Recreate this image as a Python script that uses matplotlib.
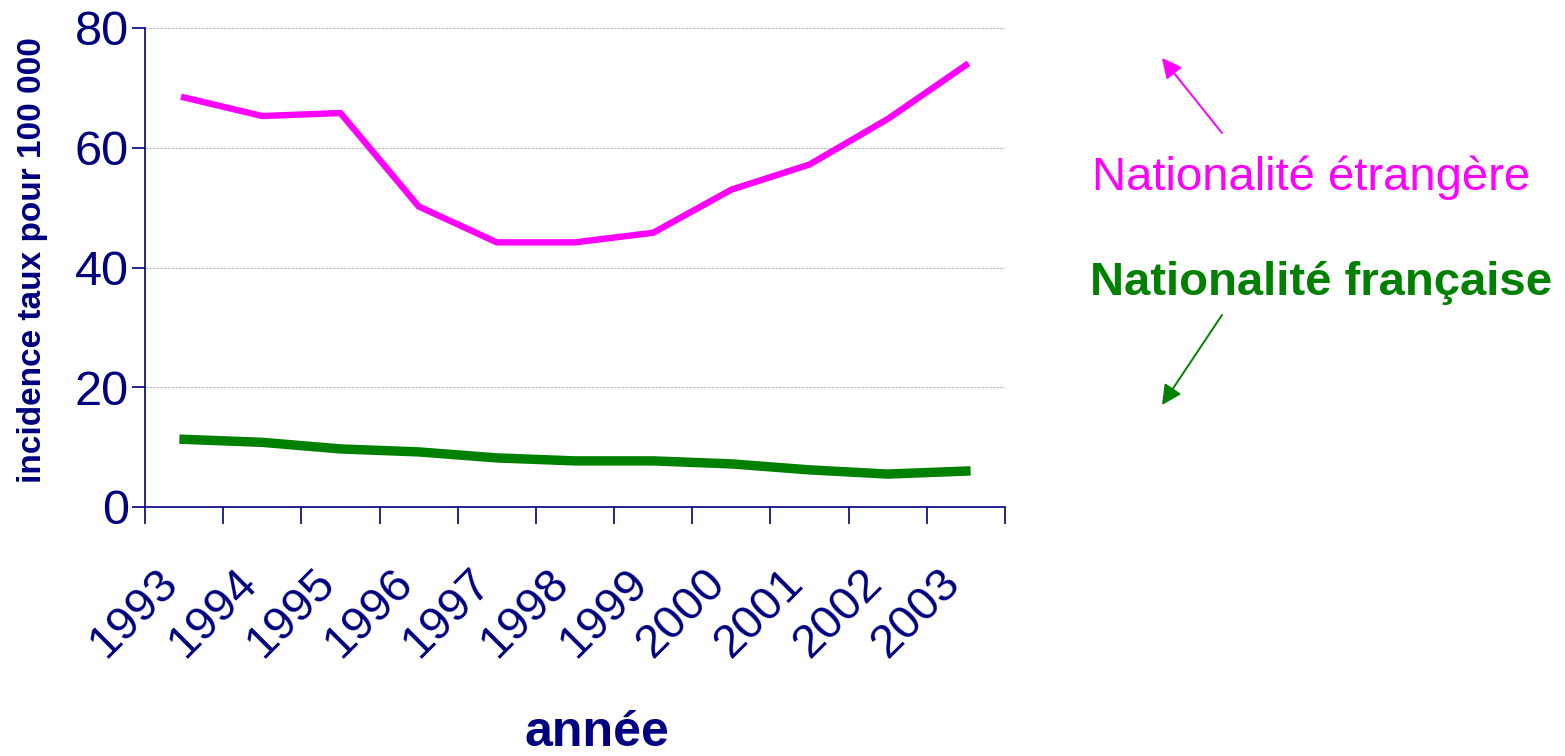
import matplotlib
matplotlib.use('Agg')
import matplotlib.pyplot as plt
from matplotlib.transforms import ScaledTranslation

plt.rcParams['font.family'] = ['Liberation Sans', 'DejaVu Sans']

# data
annees = ['1993', '1994', '1995', '1996', '1997', '1998', '1999', '2000', '2001', '2002', '2003']
etrangere = [68.4, 65.3, 65.8, 50.2, 44.2, 44.2, 45.8, 53.0, 57.2, 64.8, 73.8]
francaise = [11.3, 10.8, 9.7, 9.2, 8.2, 7.7, 7.7, 7.2, 6.2, 5.5, 6.0]
yticks = [0, 20, 40, 60, 80]

navy = '#000080'
magenta = '#ff00ff'
vert = '#008000'

W, H = 1565, 756
fig = plt.figure(figsize=(W / 100, H / 100), dpi=100)
ax = fig.add_axes([145 / W, 1 - 507 / H, 860 / W, 479 / H])

x = list(range(len(annees)))
ax.plot(x, etrangere, color=magenta, lw=4.6, solid_joinstyle='miter', zorder=3)
ax.plot(x, francaise, color=vert, lw=6.8, solid_joinstyle='miter', zorder=3)

ax.set_xlim(-0.5, len(annees) - 0.5)
ax.set_ylim(0, 80)

# y axis
ax.set_yticks(yticks)
ax.tick_params(axis='y', which='major', direction='out', length=9.5, width=1.2,
               color=navy, labelcolor=navy, labelsize=35, pad=2)
ax.yaxis.grid(True, color='#bdbdbd', lw=0.9, linestyle=(0, (2, 1)))
ax.set_axisbelow(True)

# x axis: ticks between categories, labels at the centres
ax.set_xticks([i - 0.5 for i in range(len(annees) + 1)])
ax.set_xticklabels([])
ax.set_xticks(x, minor=True)
ax.set_xticklabels(annees, minor=True)
ax.tick_params(axis='x', which='major', direction='out', length=12.5, width=1.2, color=navy)
ax.tick_params(axis='x', which='minor', length=0, labelcolor=navy, labelsize=34, pad=56)
off = ScaledTranslation(-4 / 100, 0, fig.dpi_scale_trans)
for lbl in ax.get_xticklabels(minor=True):
    lbl.set_rotation(45)
    lbl.set_rotation_mode('anchor')
    lbl.set_horizontalalignment('right')
    lbl.set_verticalalignment('baseline')
    lbl.set_transform(lbl.get_transform() + off)

for s in ['top', 'right']:
    ax.spines[s].set_visible(False)
for s in ['left', 'bottom']:
    ax.spines[s].set_color(navy)
    ax.spines[s].set_linewidth(1.2)

fig.text(33 / W, 1 - 260 / H, 'incidence taux pour 100 000', rotation=90,
         ha='center', va='center', color=navy, fontsize=24, fontweight='bold')
fig.text(597 / W, 10 / H, 'année', ha='center', va='baseline',
         color=navy, fontsize=36, fontweight='bold')

# series labels with arrows
fig.text(1092 / W, 1 - 190 / H, 'Nationalité étrangère', color=magenta,
         fontsize=34, ha='left', va='baseline')
fig.text(1090 / W, 1 - 295 / H, 'Nationalité française', color=vert,
         fontsize=34, fontweight='bold', ha='left', va='baseline')
fig.add_artist(plt.Annotation('', xy=(1162, H - 58), xytext=(1222, H - 133),
                              xycoords='figure pixels', textcoords='figure pixels',
                              arrowprops=dict(arrowstyle='-|>', color=magenta, lw=1.4,
                                              mutation_scale=30, shrinkA=0, shrinkB=0)))
fig.add_artist(plt.Annotation('', xy=(1162, H - 405), xytext=(1222, H - 315),
                              xycoords='figure pixels', textcoords='figure pixels',
                              arrowprops=dict(arrowstyle='-|>', color=vert, lw=1.4,
                                              mutation_scale=30, shrinkA=0, shrinkB=0)))

fig.savefig('out.png', dpi=100)
